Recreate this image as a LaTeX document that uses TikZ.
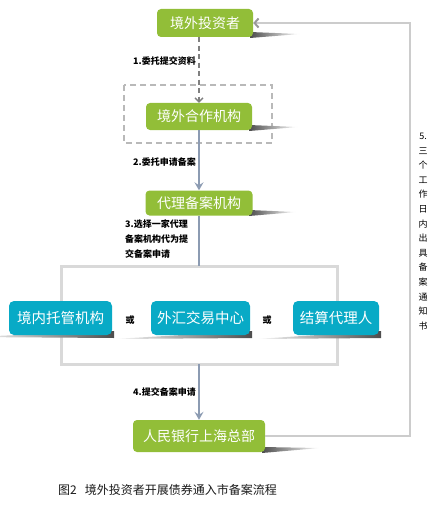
\documentclass[tikz,border=0pt]{standalone}
\usepackage{fontspec}
\setmainfont{Noto Sans CJK SC}
\usetikzlibrary{arrows.meta}
\definecolor{boxgreen}{RGB}{146,190,56}
\definecolor{boxblue}{RGB}{8,170,198}
\definecolor{flowgray}{RGB}{140,155,178}

\begin{document}
\begin{tikzpicture}[x=1pt,y=-1pt,
  greenbox/.style={fill=boxgreen,rounded corners=4pt,text=white,font=\fontsize{14}{14}\selectfont,inner sep=0pt},
  bluebox/.style={fill=boxblue,rounded corners=5pt,text=white,font=\fontsize{14.5}{14.5}\selectfont,inner sep=0pt,minimum height=34pt},
  lbl/.style={font=\fontsize{9}{15}\selectfont\bfseries,inner sep=0pt},
  flow/.style={draw=flowgray,line width=2pt},
  flowtip/.style={-{Stealth[length=8pt,width=9pt,inset=3pt]}}]
\useasboundingbox (0,0) rectangle (439,508);
% frames
\draw[gray!55,line width=1.4pt,dash pattern=on 6pt off 4pt] (124,85) rectangle (272,143);
\draw[gray!30,line width=3pt] (61,266) coordinate (rtl) rectangle (337,364) coordinate (rbr);
% shadows
\shade[left color=black!70,right color=white] (250,32) -- (300,34) -- (250,38) -- cycle;
\shade[left color=black!70,right color=white] (249,125) -- (298,127) -- (249,131) -- cycle;
\shade[left color=black!70,right color=white] (249,210) -- (296,212) -- (249,216) -- cycle;
\shade[left color=black!70,right color=white] (262,447) -- (320,448) -- (262,453) -- cycle;
\shade[right color=black!70,left color=white] (114,331) -- (114,338) -- (-29,337) -- cycle;
\shade[right color=black!70,left color=white] (252,331) -- (252,338) -- (113,339) -- cycle;
\shade[right color=black!70,left color=white] (381,331) -- (381,338) -- (255,339) -- cycle;
% nodes
\node[greenbox,minimum width=96pt,minimum height=28pt] (inv) at (205,23) {境外投资者};
\node[greenbox,minimum width=106pt,minimum height=27pt] (coop) at (199,116.5) {境外合作机构};
\node[greenbox,minimum width=107pt,minimum height=25pt] (agent) at (199,203) {代理备案机构};
\node[greenbox,minimum width=132pt,minimum height=32pt] (pboc) at (199,436) {人民银行上海总部};
\node[bluebox,minimum width=103pt] (cust) at (60.5,318) {境内托管机构};
\node[bluebox,minimum width=99pt] (cfets) at (200.5,318) {外汇交易中心};
\node[bluebox,minimum width=86pt] (settle) at (336,318) {结算代理人};
\node[lbl] (or1) at (130,320) {或};
\node[lbl] (or2) at (267,320) {或};
% connectors
\draw[black!50,line width=1.3pt,dash pattern=on 5pt off 3.5pt,-{Straight Barb[length=4pt,width=8pt]}] (inv.south -| coop.north) -- (coop.north);
\draw[flow,flowtip] (coop) -- (agent);
\draw[flow] (agent) -- (agent |- rtl);
\draw[flow,flowtip] (pboc |- rbr) -- (pboc);
\draw[gray!40,line width=2pt,-{Straight Barb[length=4pt,width=9pt,color=gray!80]}] (pboc.east) -- ++(145,0) |- (inv.east);
% labels
\node[lbl,anchor=east] (l1) at (196,61) {1.委托提交资料};
\node[lbl,anchor=east] (l2) at (196,162) {2.委托申请备案};
\node[lbl,anchor=north west,align=left] (l3) at (125,219) {3.选择一家代理\\备案机构代为提\\交备案申请};
\node[lbl,anchor=east] (l4) at (196,392) {4.提交备案申请};
\node[font=\fontsize{9}{14.6}\selectfont,inner sep=0pt,align=center] (l5) at (423,231.5) {5.\\三\\个\\工\\作\\日\\内\\出\\具\\备\\案\\通\\知\\书};
\node[anchor=west,inner sep=0pt,text=black!90,font=\fontsize{12}{12}\selectfont] (cap) at (58,490) {图2\hspace{8pt}境外投资者开展债券通入市备案流程};
\end{tikzpicture}
\end{document}
